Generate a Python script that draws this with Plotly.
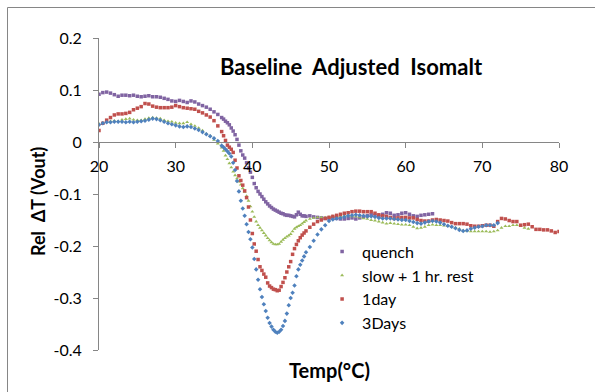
import plotly.graph_objects as go

# Temperature grid (°C) shared by all series
TEMP = [20, 20.5, 21, 21.5, 22, 22.5, 23, 23.5, 24, 24.5, 25, 25.5, 26, 26.5, 27, 27.5,
        28, 28.5, 29, 29.5, 30, 30.5, 31, 31.5, 32, 32.5, 33, 33.5, 34, 34.5, 35, 35.5, 36,
        36.25, 36.5, 36.75, 37, 37.25, 37.5, 37.75, 38, 38.25, 38.5, 38.75, 39, 39.25, 39.5,
        39.75, 40, 40.25, 40.5, 40.75, 41, 41.25, 41.5, 41.75, 42, 42.25, 42.5, 42.75, 43,
        43.25, 43.5, 43.75, 44, 44.25, 44.5, 44.75, 45, 45.25, 45.5, 45.75, 46, 46.25, 46.5,
        46.75, 47,
        47.5, 48, 48.5, 49, 49.5, 50, 50.5, 51, 51.5, 52, 52.5, 53, 53.5, 54, 54.5, 55, 55.5,
        56, 56.5, 57, 57.5, 58, 58.5, 59, 59.5, 60, 60.5, 61, 61.5, 62, 62.5, 63, 63.5, 64,
        64.5, 65, 65.5, 66, 66.5, 67, 67.5, 68, 68.5, 69, 69.5, 70, 70.5, 71, 71.5, 72, 72.5,
        73, 73.5, 74, 74.5, 75, 75.5, 76, 76.5, 77, 77.5, 78, 78.5, 79, 79.5, 80]

QUENCH = [0.092, 0.095, 0.096, 0.094, 0.091, 0.088, 0.090, 0.090, 0.089, 0.090, 0.088, 0.087,
          0.088, 0.089, 0.087, 0.087, 0.086, 0.084, 0.082, 0.079, 0.078, 0.080, 0.078, 0.076,
          0.079, 0.077, 0.073, 0.070, 0.067, 0.063, 0.058, 0.053, 0.047,
          0.044, 0.040, 0.037, 0.033, 0.027, 0.021, 0.014, 0.005, -0.006, -0.017, -0.025, -0.031,
          -0.040, -0.050, -0.058, -0.068, -0.080, -0.088, -0.095, -0.100, -0.105, -0.110, -0.115,
          -0.119, -0.123, -0.126, -0.129, -0.131, -0.133, -0.135, -0.137, -0.138, -0.140, -0.141,
          -0.141, -0.142, -0.143, -0.144, -0.140, -0.135, -0.139, -0.142, -0.142, -0.143,
          -0.142, -0.144, -0.145, -0.146, -0.147, -0.147, -0.146, -0.147, -0.148, -0.148, -0.147,
          -0.146, -0.148, -0.146, -0.144, -0.142, -0.140, -0.141, -0.143, -0.139, -0.136, -0.137,
          -0.141, -0.140, -0.137, -0.136, -0.139, -0.142, -0.143, -0.141, -0.140, -0.139, -0.138]

SLOW = [0.035, 0.037, 0.038, 0.040, 0.041, 0.040, 0.043, 0.044, 0.045, 0.043, 0.042, 0.042,
        0.044, 0.046, 0.047, 0.046, 0.045, 0.042, 0.040, 0.039, 0.037, 0.036, 0.036, 0.038,
        0.034, 0.031, 0.027, 0.022, 0.016, 0.012, 0.004, -0.003, -0.011,
        -0.017, -0.026, -0.033, -0.041, -0.049, -0.057, -0.064, -0.070, -0.076, -0.082, -0.089,
        -0.096, -0.104, -0.113, -0.124, -0.134, -0.144, -0.153, -0.160, -0.165, -0.170, -0.175,
        -0.180, -0.185, -0.189, -0.193, -0.196, -0.197, -0.197, -0.196, -0.192, -0.188, -0.185,
        -0.182, -0.180, -0.177, -0.172, -0.167, -0.164, -0.162, -0.160, -0.157, -0.154, -0.151,
        -0.148, -0.146, -0.145, -0.145, -0.145, -0.144, -0.143, -0.143, -0.143, -0.142, -0.142,
        -0.143, -0.143, -0.145, -0.147, -0.148, -0.150, -0.151, -0.153, -0.155, -0.157, -0.156,
        -0.157, -0.158, -0.159, -0.159, -0.160, -0.163, -0.166, -0.165, -0.163, -0.160, -0.159,
        -0.160, -0.160, -0.161, -0.162, -0.163, -0.165, -0.167, -0.170, -0.171, -0.172, -0.172,
        -0.172, -0.172, -0.172, -0.173, -0.172, -0.170, -0.165, -0.162, -0.162, -0.160, -0.160,
        -0.162, -0.165, -0.167]

ONE_DAY = [0.022, 0.036, 0.042, 0.047, 0.052, 0.054, 0.054, 0.055, 0.057, 0.062, 0.065, 0.068,
           0.074, 0.073, 0.069, 0.067, 0.066, 0.066, 0.066, 0.067, 0.070, 0.068, 0.066, 0.065,
           0.064, 0.063, 0.059, 0.056, 0.052, 0.048, 0.041, 0.031, 0.020,
           0.012, 0.003, -0.006, -0.010, -0.014, -0.020, -0.035, -0.050, -0.065, -0.074, -0.083,
           -0.094, -0.107, -0.125, -0.150, -0.176, -0.196, -0.210, -0.226, -0.240, -0.247, -0.254,
           -0.260, -0.271, -0.277, -0.280, -0.283, -0.284, -0.286, -0.285, -0.278, -0.270, -0.261,
           -0.250, -0.240, -0.230, -0.216, -0.205, -0.197, -0.190, -0.184, -0.179, -0.175, -0.171,
           -0.164, -0.158, -0.153, -0.150, -0.147, -0.145, -0.143, -0.141, -0.139, -0.137, -0.136,
           -0.134, -0.133, -0.133, -0.134, -0.134, -0.134, -0.137, -0.140, -0.142, -0.143, -0.145,
           -0.147, -0.146, -0.145, -0.145, -0.146, -0.146, -0.149, -0.151, -0.152, -0.152, -0.150,
           -0.149, -0.150, -0.151, -0.152, -0.155, -0.157, -0.157, -0.157, -0.158, -0.161, -0.162,
           -0.162, -0.161, -0.160, -0.160, -0.162, -0.153, -0.147, -0.148, -0.151, -0.153, -0.153,
           -0.160, -0.159, -0.158, -0.163, -0.168, -0.168, -0.169, -0.169, -0.171, -0.174, -0.172]

THREE_DAYS = [0.033, 0.036, 0.038, 0.038, 0.039, 0.039, 0.039, 0.038, 0.039, 0.038, 0.039, 0.040,
              0.041, 0.043, 0.045, 0.044, 0.042, 0.039, 0.036, 0.034, 0.032, 0.030, 0.029, 0.030,
              0.029, 0.026, 0.023, 0.019, 0.015, 0.011, 0.007, 0.002, -0.007,
              -0.010, -0.014, -0.018, -0.022, -0.028, -0.040, -0.054, -0.075, -0.095, -0.113,
              -0.128, -0.142, -0.158, -0.173, -0.187, -0.203, -0.225, -0.245, -0.265, -0.283,
              -0.298, -0.312, -0.325, -0.338, -0.348, -0.355, -0.361, -0.365, -0.367, -0.365,
              -0.361, -0.354, -0.344, -0.330, -0.314, -0.300, -0.290, -0.276, -0.258, -0.245,
              -0.236, -0.228, -0.220, -0.212,
              -0.202, -0.190, -0.178, -0.168, -0.160, -0.152, -0.149, -0.147, -0.146, -0.144,
              -0.142, -0.141, -0.140, -0.141, -0.142, -0.143, -0.143, -0.144, -0.146, -0.147,
              -0.147, -0.147, -0.148, -0.149, -0.150, -0.150, -0.152, -0.154, -0.156, -0.157,
              -0.155, -0.153, -0.152, -0.153, -0.155, -0.158, -0.161, -0.163, -0.166, -0.169,
              -0.171, -0.170, -0.167, -0.165, -0.163, -0.162, -0.160, -0.160, -0.160, -0.156]

SERIES_NAMES = ["quench", "slow + 1 hr. rest", "1day", "3Days"]
SERIES_VALUES = [QUENCH, SLOW, ONE_DAY, THREE_DAYS]
COLORS = ["#8064A2", "#9BBB59", "#C0504D", "#4F81BD"]
SYMBOLS = ["square", "triangle-up", "square", "diamond"]

Y_TICKS = [0.2, 0.1, 0, -0.1, -0.2, -0.3, -0.4]
Y_TICK_TEXT = ["0.2", "0.1", "0", "-0.1", "-0.2", "-0.3", "-0.4"]
X_TICKS = [20, 30, 40, 50, 60, 70, 80]
X_TICK_TEXT = ["20", "30", "40", "50", "60", "70", "80"]

FONT = "Lato, 'Open Sans', sans-serif"
AXIS_COLOR = "#868686"

fig = go.Figure()
for name, vals, col, sym in zip(SERIES_NAMES, SERIES_VALUES, COLORS, SYMBOLS):
    fig.add_trace(go.Scatter(
        x=TEMP[:len(vals)], y=vals, name=name, mode="markers",
        marker=dict(color=col, symbol=sym, size=3.5, line=dict(width=0)),
    ))

fig.update_layout(
    width=595, height=392,
    margin=dict(l=99, r=36, t=38, b=42, autoexpand=False),
    paper_bgcolor="white", plot_bgcolor="white",
    font=dict(family=FONT, color="#000000", size=16),
    title=dict(text="<b>Baseline  Adjusted  Isomalt</b>", x=0.548, xref="paper",
               xanchor="center", y=1 - 67 / 392, yref="container", yanchor="middle",
               font=dict(family=FONT, size=22, color="#000000")),
    showlegend=True,
    legend=dict(x=0.485, y=0.37, xanchor="left", yanchor="top",
                bgcolor="rgba(0,0,0,0)", font=dict(family=FONT, size=16),
                tracegroupgap=0),
    xaxis=dict(range=[20, 80], anchor="free", position=2 / 3, automargin=False,
               showline=True, linecolor=AXIS_COLOR, linewidth=1,
               ticks="outside", ticklen=5, tickcolor=AXIS_COLOR,
               tickvals=X_TICKS, ticktext=X_TICK_TEXT,
               showgrid=False, zeroline=False, ticklabelstandoff=5),
    yaxis=dict(range=[-0.4, 0.2], automargin=False,
               showline=True, linecolor=AXIS_COLOR, linewidth=1,
               ticks="outside", ticklen=5, tickcolor=AXIS_COLOR,
               tickvals=Y_TICKS, ticktext=Y_TICK_TEXT,
               showgrid=False, zeroline=False, ticklabelstandoff=8),
    annotations=[
        dict(text="<b>Temp(°C)</b>", xref="paper", yref="paper",
             x=0.5, y=(350 - 370) / 312, xanchor="center", yanchor="middle",
             showarrow=False, font=dict(family=FONT, size=20, color="#000000")),
        dict(text="<b>Rel  ΔT (Vout)</b>", xref="paper", yref="paper", textangle=-90,
             x=(38 - 99) / 460, y=(350 - 201) / 312, xanchor="center", yanchor="middle",
             showarrow=False, font=dict(family=FONT, size=18, color="#000000")),
    ],
    shapes=[dict(type="rect", xref="paper", yref="paper",
                 x0=(7.5 - 99) / 460, x1=(620 - 99) / 460,
                 y0=(350 - 420) / 312, y1=1 + (38 - 7.5) / 312,
                 line=dict(color=AXIS_COLOR, width=1), fillcolor="rgba(0,0,0,0)",
                 layer="above")],
)

fig.write_html("out.html", config={"displayModeBar": False},
               post_script="document.body.style.margin='0';document.body.style.overflow='hidden';")
